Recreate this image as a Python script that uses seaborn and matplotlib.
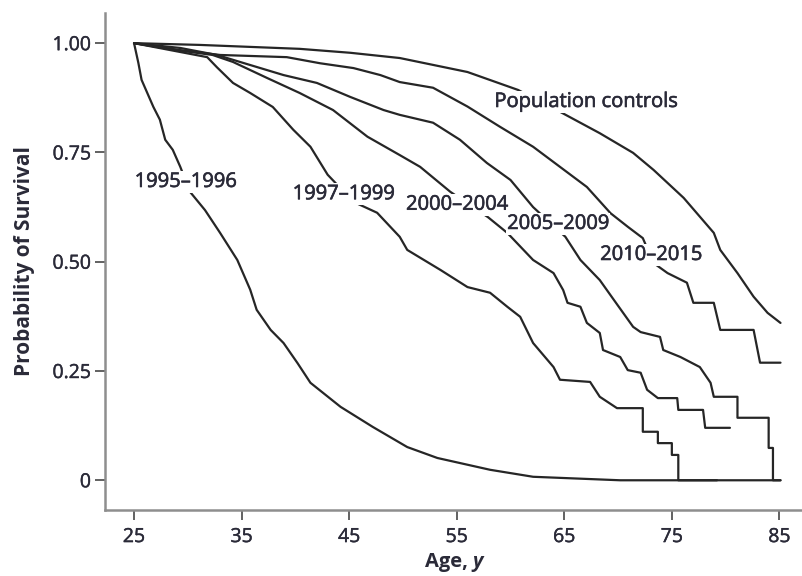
import matplotlib
matplotlib.use("Agg")
import matplotlib.pyplot as plt
import matplotlib.patheffects as pe
from matplotlib import font_manager
import pandas as pd
import seaborn as sns

# Kaplan-Meier survival estimates by cohort (age in years, survival probability)
ages_1995 = [25, 25.4, 25.7, 26.8, 27.4, 27.9, 28.6, 29.3, 30.2, 31.6, 33.0, 34.6, 35.8,
             36.4, 37.7, 38.9, 40.2, 41.4, 44.2, 47.2, 50.4, 53.2, 58.1, 62.1, 70.2, 79.2]
surv_1995 = [1.000, 0.955, 0.916, 0.854, 0.825, 0.779, 0.756, 0.717, 0.660, 0.618, 0.566, 0.504, 0.436,
             0.390, 0.344, 0.314, 0.268, 0.223, 0.168, 0.122, 0.076, 0.051, 0.024, 0.008, 0.000, 0.000]

ages_1997 = [25, 31.8, 32.7, 34.2, 35.8, 37.9, 39.8, 41.4, 43.0, 45.4, 47.6, 49.7, 50.4, 53.5,
             56.0, 58.1, 59.7, 60.9, 62.1, 64.0, 64.6, 67.4, 68.3, 69.9, 72.3, 72.3, 73.7, 73.7,
             75.0, 75.0, 75.6, 75.6, 85.1]
surv_1997 = [1.000, 0.968, 0.945, 0.909, 0.886, 0.854, 0.802, 0.763, 0.699, 0.637, 0.612, 0.557, 0.527, 0.481,
             0.442, 0.429, 0.397, 0.374, 0.314, 0.259, 0.230, 0.225, 0.191, 0.165, 0.165, 0.111, 0.111, 0.085,
             0.085, 0.058, 0.058, 0.000, 0.000]

ages_2000 = [25, 29.0, 32.3, 34.2, 37.4, 40.4, 43.5, 46.7, 49.7, 51.6, 54.4, 57.9, 59.7, 62.1,
             64.0, 64.9, 65.3, 66.5, 67.1, 68.3, 68.6, 70.2, 70.9, 72.1, 72.7, 73.7, 75.5, 75.6,
             77.9, 78.1, 80.4]
surv_2000 = [1.000, 0.984, 0.973, 0.957, 0.920, 0.886, 0.847, 0.786, 0.744, 0.717, 0.660, 0.602, 0.566, 0.504,
             0.474, 0.435, 0.406, 0.397, 0.360, 0.337, 0.298, 0.282, 0.252, 0.246, 0.207, 0.188, 0.188, 0.161,
             0.161, 0.120, 0.120]

ages_2005 = [25, 29.3, 32.7, 35.8, 38.9, 42.0, 45.1, 48.2, 49.7, 52.8, 55.3, 57.8, 60.0, 62.1,
             65.1, 66.5, 68.3, 69.6, 71.4, 72.1, 73.9, 74.2, 75.8, 77.6, 78.6, 78.9, 81.1, 81.1,
             84.0, 84.0, 84.4, 84.4, 85.1]
surv_2005 = [1.000, 0.989, 0.973, 0.950, 0.927, 0.909, 0.877, 0.847, 0.836, 0.818, 0.779, 0.726, 0.687, 0.625,
             0.557, 0.504, 0.458, 0.413, 0.351, 0.339, 0.328, 0.298, 0.282, 0.259, 0.223, 0.191, 0.191, 0.143,
             0.143, 0.074, 0.074, 0.000, 0.000]

ages_2010 = [25, 29.3, 33.0, 39.2, 42.3, 45.4, 47.9, 49.7, 52.8, 56.0, 59.0, 62.1, 64.6, 67.1,
             69.3, 70.9, 72.3, 73.3, 74.6, 76.4, 77.0, 78.9, 79.5, 82.6, 83.2, 85.1]
surv_2010 = [1.000, 0.984, 0.973, 0.968, 0.954, 0.943, 0.927, 0.911, 0.898, 0.855, 0.809, 0.763, 0.717, 0.671,
             0.611, 0.580, 0.554, 0.497, 0.474, 0.452, 0.406, 0.406, 0.344, 0.344, 0.269, 0.269]

ages_pop = [25, 31.1, 40.4, 45.1, 49.7, 56.0, 60.7, 64.6, 68.3, 71.4, 73.3, 76.1, 78.9, 79.5,
            81.1, 82.6, 83.9, 85.1]
surv_pop = [1.000, 0.996, 0.987, 0.978, 0.966, 0.934, 0.893, 0.843, 0.794, 0.749, 0.710, 0.646, 0.566, 0.527,
            0.474, 0.420, 0.383, 0.360]

cohorts = ["1995–1996", "1997–1999", "2000–2004", "2005–2009", "2010–2015", "Population controls"]
series = [(ages_1995, surv_1995), (ages_1997, surv_1997), (ages_2000, surv_2000),
          (ages_2005, surv_2005), (ages_2010, surv_2010), (ages_pop, surv_pop)]

# Label anchor for each curve (age, survival at text baseline)
label_age = [29.81, 44.50, 55.03, 64.43, 73.09, 67.05]
label_surv = [0.671, 0.643, 0.619, 0.575, 0.504, 0.854]

x_ticks = [25, 35, 45, 55, 65, 75, 85]
y_ticks = [0, 0.25, 0.50, 0.75, 1.00]
y_tick_labels = ["0", "0.25", "0.50", "0.75", "1.00"]

frames = []
for name, (a, s) in zip(cohorts, series):
    frames.append(pd.DataFrame({"age": a, "survival": s, "cohort": name}))
df = pd.concat(frames, ignore_index=True)

sns.set_theme(style="ticks")
plt.rcParams["font.family"] = ["Open Sans", "DejaVu Sans"]

TEXT = "#2a2a38"
LINE = "#262626"
SPINE = "#8e8e8e"
heavier = [pe.withStroke(linewidth=0.45, foreground=TEXT)]

fig = plt.figure(figsize=(8.02, 5.76), dpi=100)
ax = fig.add_axes([105 / 802, 66 / 576, 697 / 802, 497 / 576])

sns.lineplot(data=df, x="age", y="survival", units="cohort", estimator=None,
             sort=False, color=LINE, linewidth=1.6, ax=ax)

for name, lx, ly in zip(cohorts, label_age, label_surv):
    ax.text(lx, ly, name, ha="center", va="baseline", fontsize=14.5, color=TEXT,
            zorder=5, path_effects=heavier,
            bbox=dict(boxstyle="square,pad=0.05", facecolor="white", edgecolor="none"))

ax.set_xlim(22.3, 87.1)
ax.set_ylim(-0.068, 1.069)
ax.set_xticks(x_ticks)
ax.set_yticks(y_ticks)
ax.set_yticklabels(y_tick_labels)
ax.tick_params(axis="both", labelsize=14, colors="#555555", labelcolor=TEXT,
               length=7, width=1.3)
ax.tick_params(axis="x", pad=6)
ax.tick_params(axis="y", pad=3)
for lab in ax.get_xticklabels() + ax.get_yticklabels():
    lab.set_path_effects([pe.withStroke(linewidth=0.3, foreground=TEXT)])

sns.despine(ax=ax)
for side in ("left", "bottom"):
    ax.spines[side].set_color(SPINE)
    ax.spines[side].set_linewidth(1.8)

ax.set_xlabel("")
ax.set_ylabel("Probability of Survival", fontsize=15, fontweight="bold", color=TEXT)
ax.yaxis.set_label_coords(-0.100, 0.5)


def bold_italic_family():
    for fam in ["Open Sans", "Lato", "Noto Sans", "Liberation Sans", "DejaVu Sans"]:
        for f in font_manager.fontManager.ttflist:
            if f.name == fam and f.style in ("italic", "oblique") and \
                    str(f.weight) in ("700", "bold"):
                return fam
    return "DejaVu Sans"


age_txt = fig.text(425 / 802, 9 / 576, "Age,", ha="left", va="baseline",
                   fontsize=14.5, fontweight="bold", color=TEXT)
ax.annotate("y", xy=(1, 0), xycoords=age_txt, xytext=(3.5, 0), textcoords="offset points",
            ha="left", va="bottom", fontsize=14.5, fontweight="bold", fontstyle="italic",
            family=bold_italic_family(), color=TEXT, annotation_clip=False)

fig.savefig("out.png", dpi=100)
